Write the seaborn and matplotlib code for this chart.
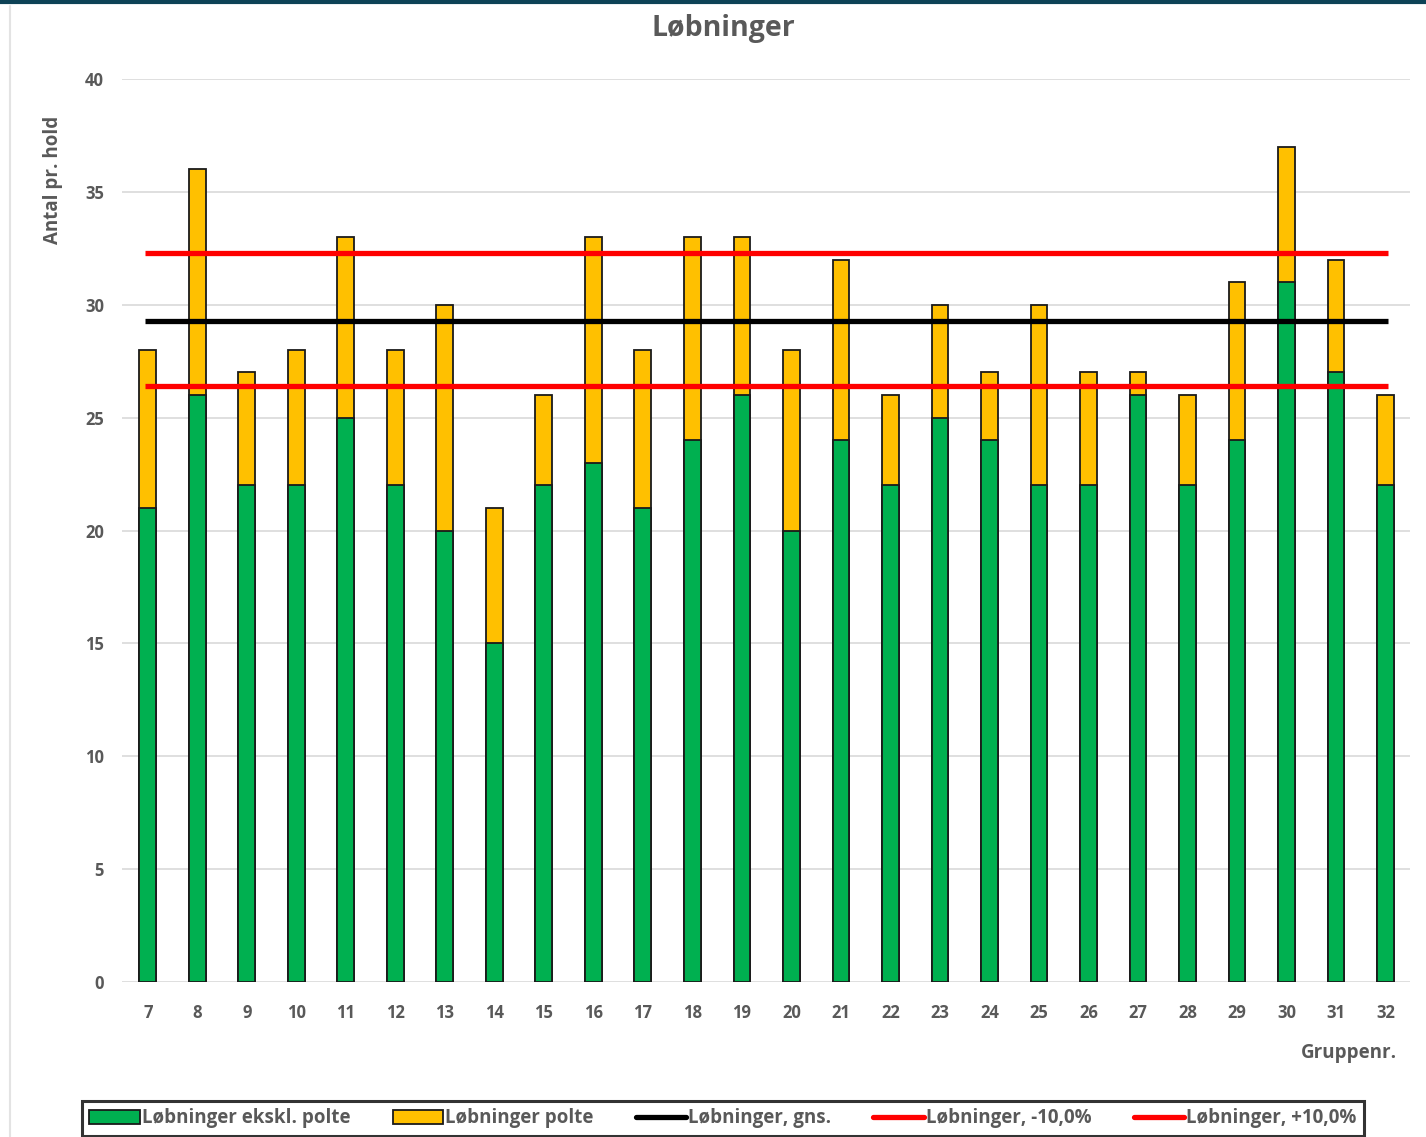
import seaborn as sns
import matplotlib.pyplot as plt
import matplotlib.lines as mlines
import matplotlib.patches as mpatches
import pandas as pd

groups = [str(g) for g in range(7, 33)]
ekskl_polte = [21, 26, 22, 22, 25, 22, 20, 15, 22, 23, 21, 24, 26, 20, 24, 22, 25, 24, 22, 22, 26, 22, 24, 31, 27, 22]
total = [28, 36, 27, 28, 33, 28, 30, 21, 26, 33, 28, 33, 33, 28, 32, 26, 30, 27, 30, 27, 27, 26, 31, 37, 32, 26]
gns = 29.3
minus10 = 26.4
plus10 = 32.3

GREEN = "#00B050"
YELLOW = "#FFC000"
RED = "#FF0000"
TXT = "#595959"

df = pd.DataFrame({"Gruppe": groups, "ekskl": ekskl_polte, "total": total})

sns.set_style("white")
plt.rcParams["font.family"] = ["Open Sans", "DejaVu Sans"]

fig = plt.figure(figsize=(14.26, 11.37), dpi=100)
ax = fig.add_axes([0.0856, 0.1363, 0.9034, 0.7942])

# stacked bars: draw total (yellow) first, green part on top
sns.barplot(data=df, x="Gruppe", y="total", color=YELLOW, width=0.34,
            edgecolor="#1a1a1a", linewidth=1.3, saturation=1, ax=ax, zorder=3)
sns.barplot(data=df, x="Gruppe", y="ekskl", color=GREEN, width=0.34,
            edgecolor="#1a1a1a", linewidth=1.3, saturation=1, ax=ax, zorder=3)

n = len(groups)
ax.hlines(gns, -0.05, n - 1 + 0.05, color="black", lw=3.8, zorder=4)
ax.hlines(minus10, -0.05, n - 1 + 0.05, color=RED, lw=3.8, zorder=4)
ax.hlines(plus10, -0.05, n - 1 + 0.05, color=RED, lw=3.8, zorder=4)

ax.set_xlim(-0.52, n - 0.5)
ax.set_ylim(0, 40)
ax.set_yticks(range(0, 41, 5))
ax.yaxis.grid(True, color="#d9d9d9", lw=1.2, zorder=0)
ax.set_axisbelow(True)
for s in ax.spines.values():
    s.set_visible(False)
ax.tick_params(axis="x", length=0, pad=16, labelsize=12, labelcolor=TXT)
ax.tick_params(axis="y", length=0, pad=13, labelsize=12, labelcolor=TXT)
for lab in ax.get_xticklabels() + ax.get_yticklabels():
    lab.set_fontweight("bold")

ax.set_ylabel("Antal pr. hold", fontsize=13.5, fontweight="bold", color=TXT)
ax.yaxis.set_label_coords(-0.046, 0.888)
ax.set_xlabel("Gruppenr.", fontsize=13.5, fontweight="bold", color=TXT, loc="right")
ax.xaxis.set_label_coords(0.99, -0.068)

fig.text(0.507, 0.975, "Løbninger", ha="center", va="center",
         fontsize=20.5, fontweight="bold", color=TXT)

handles = [
    mpatches.Patch(facecolor=GREEN, edgecolor="#1a1a1a", lw=1.3),
    mpatches.Patch(facecolor=YELLOW, edgecolor="#1a1a1a", lw=1.3),
    mlines.Line2D([], [], color="black", lw=3.8),
    mlines.Line2D([], [], color=RED, lw=3.8),
    mlines.Line2D([], [], color=RED, lw=3.8),
]
labels = ["Løbninger ekskl. polte", "Løbninger polte", "Løbninger, gns.",
          "Løbninger, -10,0%", "Løbninger, +10,0%"]
leg = fig.legend(handles, labels, loc="upper center", bbox_to_anchor=(0.507, 0.040),
                 ncol=5, frameon=True, fancybox=False, fontsize=13.5,
                 handlelength=2.7, handleheight=0.8, handletextpad=0.1,
                 columnspacing=2.25, borderpad=0.4)
leg.get_frame().set_edgecolor("black")
leg.get_frame().set_linewidth(2.2)
for t in leg.get_texts():
    t.set_color(TXT)
    t.set_fontweight("bold")

# screenshot frame bits
fig.add_artist(mlines.Line2D([0, 1], [0.9985, 0.9985], color="#0d4256", lw=3,
                             transform=fig.transFigure))
fig.add_artist(mlines.Line2D([0.007, 0.007], [0, 0.995], color="#e3e3e3", lw=1.5,
                             transform=fig.transFigure))

fig.savefig("out.png", dpi=100)
